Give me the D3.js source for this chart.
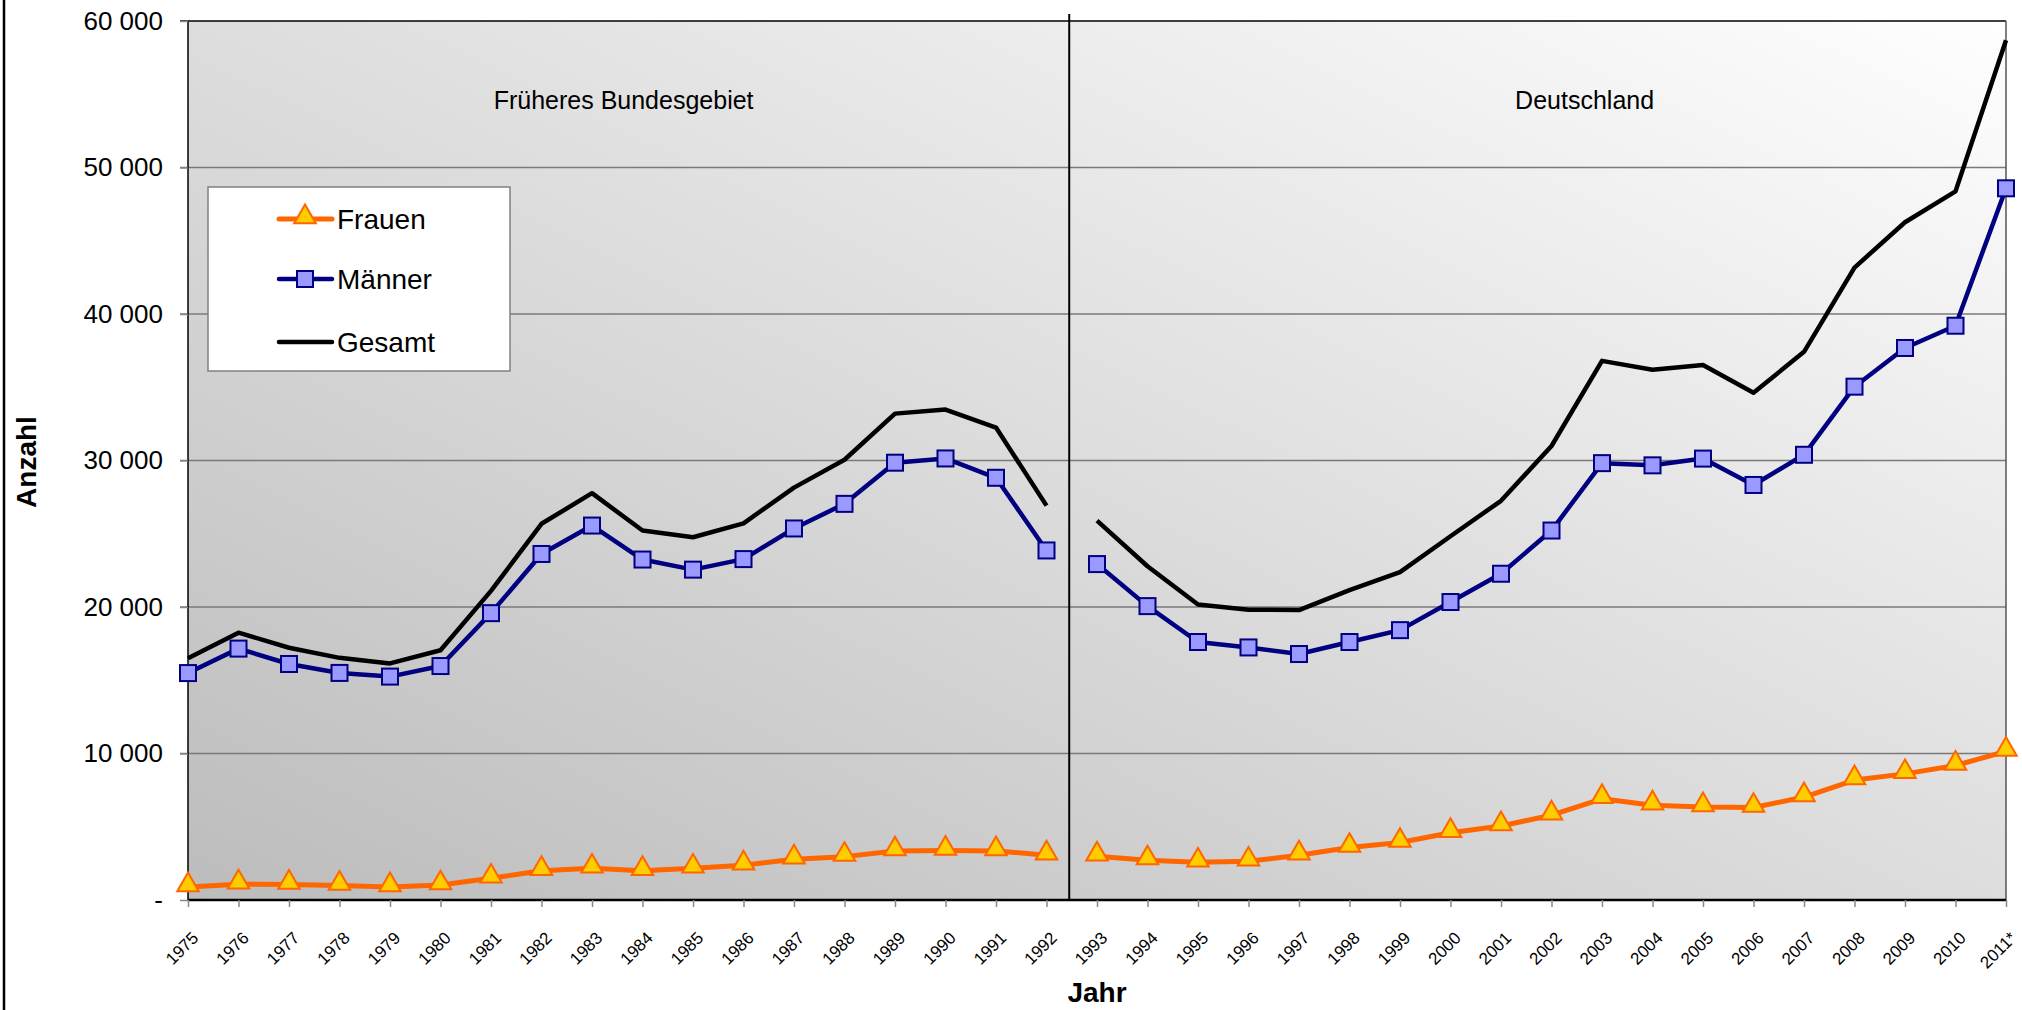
<!DOCTYPE html>
<html>
<head>
<meta charset="utf-8">
<script src="https://cdn.jsdelivr.net/npm/d3@7"></script>
<style>
  html, body { margin: 0; padding: 0; background: #ffffff; }
  svg { display: block; font-family: "Liberation Sans", Arial, sans-serif; }
</style>
</head>
<body>
<script>
// ---------- data ----------
const years = ["1975","1976","1977","1978","1979","1980","1981","1982","1983","1984","1985","1986","1987","1988","1989","1990","1991","1992",
               "1993","1994","1995","1996","1997","1998","1999","2000","2001","2002","2003","2004","2005","2006","2007","2008","2009","2010","2011*"];
const frauen  = [890, 1080, 1060, 990, 890, 1020, 1480, 2000, 2160, 2000, 2160, 2370, 2780, 2960, 3340, 3380, 3350, 3060,
                 2990, 2720, 2570, 2640, 3060, 3580, 3920, 4590, 5050, 5790, 6910, 6470, 6350, 6310, 7030, 8190, 8610, 9180, 10140];
const maenner = [15490, 17160, 16110, 15500, 15250, 15970, 19580, 23620, 25560, 23240, 22550, 23270, 25360, 27040, 29850, 30140, 28820, 23860,
                 22930, 20060, 17610, 17240, 16790, 17610, 18420, 20340, 22270, 25220, 29820, 29670, 30130, 28330, 30390, 35040, 37680, 39200, 48580];
const gesamt  = [16500, 18250, 17220, 16530, 16150, 17050, 21100, 25680, 27770, 25220, 24760, 25710, 28150, 30050, 33200, 33480, 32250, 26920,
                 25900, 22780, 20170, 19820, 19790, 21150, 22380, 24830, 27250, 30990, 36800, 36200, 36520, 34620, 37420, 43170, 46260, 48370, 58680];
const yTicks = [0, 10000, 20000, 30000, 40000, 50000, 60000];
const regions = ["Früheres Bundesgebiet", "Deutschland"];
const splitAfter = "1992";       // last year of "Früheres Bundesgebiet"
const seriesNames = ["Frauen", "Männer", "Gesamt"];

// ---------- layout ----------
const W = 2022, H = 1010;
const L = 188, R = 2006, T = 21, B = 900;

const svg = d3.select("body").append("svg").attr("width", W).attr("height", H);

const defs = svg.append("defs");
const grad = defs.append("linearGradient").attr("id", "bg")
  .attr("x1", 0).attr("y1", 1).attr("x2", 1).attr("y2", 0);
grad.append("stop").attr("offset", "0%").attr("stop-color", "#bcbcbc");
grad.append("stop").attr("offset", "100%").attr("stop-color", "#fefefe");

const x = d3.scalePoint().domain(years).range([L, R]);
const y = d3.scaleLinear().domain([0, 60000]).range([B, T]);

// outer frame (left edge visible)
svg.append("line").attr("x1", 4).attr("x2", 4).attr("y1", 0).attr("y2", H)
  .attr("stroke", "#000").attr("stroke-width", 2.5);

// plot background
svg.append("rect").attr("x", L).attr("y", T).attr("width", R - L).attr("height", B - T)
  .attr("fill", "url(#bg)");

// gridlines
svg.append("g").selectAll("line").data(yTicks.filter(d => d > 0 && d < 60000)).join("line")
  .attr("x1", L - 8).attr("x2", R).attr("y1", d => y(d)).attr("y2", d => y(d))
  .attr("stroke", "#7a7a7a").attr("stroke-width", 1.5);

// plot border
svg.append("line").attr("x1", L - 8).attr("x2", R).attr("y1", T).attr("y2", T).attr("stroke", "#000").attr("stroke-width", 1.5);
svg.append("line").attr("x1", L).attr("x2", L).attr("y1", T).attr("y2", B).attr("stroke", "#000").attr("stroke-width", 1.5);
svg.append("line").attr("x1", R).attr("x2", R).attr("y1", T).attr("y2", B).attr("stroke", "#555").attr("stroke-width", 1.5);

// y axis
const yAxis = d3.axisLeft(y).tickValues(yTicks).tickSize(8).tickPadding(17)
  .tickFormat(d => d === 0 ? "-" : d3.format(",")(d).replace(/,/g, " "));
const gy = svg.append("g").attr("transform", `translate(${L},0)`).call(yAxis);
gy.select(".domain").remove();
gy.selectAll(".tick line").attr("stroke", "#888").attr("stroke-width", 1.5);
gy.selectAll(".tick text").attr("font-size", 26).attr("fill", "#000");

// x axis
const xAxis = d3.axisBottom(x).tickSize(7).tickPadding(0);
const gx = svg.append("g").attr("transform", `translate(0,${B})`).call(xAxis);
gx.select(".domain").attr("stroke", "#000").attr("stroke-width", 2.5).attr("d", `M${L},0H${R}`);
gx.selectAll(".tick line").attr("stroke", "#888").attr("stroke-width", 1.5);
gx.selectAll(".tick text")
  .attr("font-size", 17).attr("fill", "#000")
  .attr("text-anchor", "end").attr("y", 0).attr("dy", 0)
  .attr("transform", "translate(11,39) rotate(-45)");

// divider between regions
const step = x.step();
const xDiv = x(splitAfter) + step * 0.45;
svg.append("line").attr("x1", xDiv).attr("x2", xDiv).attr("y1", T - 7).attr("y2", B)
  .attr("stroke", "#000").attr("stroke-width", 2);

// region labels
svg.append("text").attr("x", (L + xDiv) / 2 - 5).attr("y", 109).attr("text-anchor", "middle")
  .attr("font-size", 25).text(regions[0]);
svg.append("text").attr("x", (xDiv + R) / 2 + 47).attr("y", 109).attr("text-anchor", "middle")
  .attr("font-size", 25).text(regions[1]);

// series
const splitIdx = years.indexOf(splitAfter);
function segs(vals) {
  const pts = vals.map((v, i) => ({ yr: years[i], v }));
  return [pts.slice(0, splitIdx + 1), pts.slice(splitIdx + 1)];
}
const line = d3.line().x(d => x(d.yr)).y(d => y(d.v));

const styles = {
  Frauen:  { stroke: "#ff6600", width: 5 },
  "Männer": { stroke: "#000080", width: 4.5 },
  Gesamt:  { stroke: "#000000", width: 4.5 }
};

function drawLine(vals, st) {
  svg.append("g").selectAll("path").data(segs(vals)).join("path")
    .attr("d", line).attr("fill", "none")
    .attr("stroke", st.stroke).attr("stroke-width", st.width)
    .attr("stroke-linejoin", "round");
}
drawLine(gesamt, styles.Gesamt);
drawLine(maenner, styles["Männer"]);
drawLine(frauen, styles.Frauen);

const sq = 16;
svg.append("g").selectAll("rect").data(maenner).join("rect")
  .attr("x", (d, i) => x(years[i]) - sq / 2).attr("y", d => y(d) - sq / 2)
  .attr("width", sq).attr("height", sq)
  .attr("fill", "#9999ff").attr("stroke", "#000080").attr("stroke-width", 2);

const tri = d3.symbol().type(d3.symbolTriangle).size(200);
svg.append("g").selectAll("path").data(frauen).join("path")
  .attr("d", tri)
  .attr("transform", (d, i) => `translate(${x(years[i])},${y(d) - 2})`)
  .attr("fill", "#ffcc00").attr("stroke", "#ff6600").attr("stroke-width", 2);

// axis titles
svg.append("text").attr("x", 1097).attr("y", 1002).attr("text-anchor", "middle")
  .attr("font-size", 28).attr("font-weight", "bold").text("Jahr");
svg.append("text").attr("transform", "translate(36,462) rotate(-90)").attr("text-anchor", "middle")
  .attr("font-size", 28).attr("font-weight", "bold").text("Anzahl");

// legend
const lg = svg.append("g");
lg.append("rect").attr("x", 208).attr("y", 187).attr("width", 302).attr("height", 184)
  .attr("fill", "#fff").attr("stroke", "#808080").attr("stroke-width", 1.5);
const rowsY = [219, 279, 342];
seriesNames.forEach((name, i) => {
  const st = styles[name];
  const cy = rowsY[i];
  lg.append("line").attr("x1", 279).attr("x2", 332).attr("y1", cy).attr("y2", cy)
    .attr("stroke", st.stroke).attr("stroke-width", st.width).attr("stroke-linecap", "round");
  if (name === "Frauen") {
    lg.append("path").attr("d", tri).attr("transform", `translate(305,${cy - 2})`)
      .attr("fill", "#ffcc00").attr("stroke", "#ff6600").attr("stroke-width", 2);
  } else if (name === "Männer") {
    lg.append("rect").attr("x", 305 - sq / 2).attr("y", cy - sq / 2).attr("width", sq).attr("height", sq)
      .attr("fill", "#9999ff").attr("stroke", "#000080").attr("stroke-width", 2);
  }
  lg.append("text").attr("x", 337).attr("y", cy + 10).attr("font-size", 28).text(name);
});
</script>
</body>
</html>
